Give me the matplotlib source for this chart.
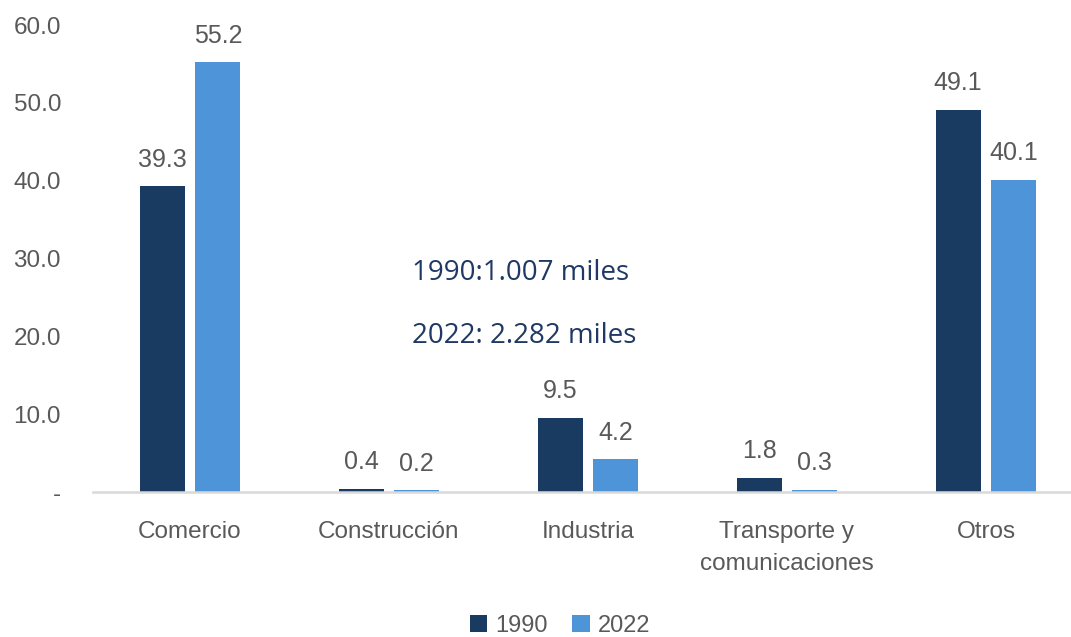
import matplotlib.pyplot as plt
import numpy as np

categorias = ['Comercio', 'Construcción', 'Industria', 'Transporte y\ncomunicaciones', 'Otros']
valores_1990 = [39.3, 0.4, 9.5, 1.8, 49.1]
valores_2022 = [55.2, 0.2, 4.2, 0.3, 40.1]
ticks_y = [0, 10, 20, 30, 40, 50, 60]
etiquetas_y = ['-', '10.0', '20.0', '30.0', '40.0', '50.0', '60.0']
nota = ['1990:1.007 miles', '2022: 2.282 miles']

c1990 = '#1a3b61'
c2022 = '#4e94d8'
gris = '#595959'

plt.rcParams['font.family'] = ['Liberation Sans', 'DejaVu Sans']

fig = plt.figure(figsize=(10.71, 6.37), dpi=100)
ax = fig.add_axes([93 / 1071, 145 / 637, 978 / 1071, 467 / 637])

x = np.arange(len(categorias))
ancho = 0.226
desp = 0.14
b1 = ax.bar(x - desp, valores_1990, ancho, color=c1990, label='1990')
b2 = ax.bar(x + desp, valores_2022, ancho, color=c2022, label='2022')

for barras, vals in ((b1, valores_1990), (b2, valores_2022)):
    for b, v in zip(barras, vals):
        ax.annotate(f'{v:.1f}', (b.get_x() + b.get_width() / 2, v),
                    xytext=(0, 10.5), textcoords='offset points',
                    ha='center', va='bottom', fontsize=18, color=gris)

ax.set_xlim(-0.487, 4.427)
ax.set_ylim(0, 60)
ax.set_xticks(x)
ax.set_xticklabels(categorias, fontsize=17.5, color=gris, linespacing=1.6)
ax.set_yticks(ticks_y)
ax.set_yticklabels(etiquetas_y, fontsize=17.5, color=gris)
ax.tick_params(axis='both', length=0)
ax.tick_params(axis='x', pad=21)
ax.tick_params(axis='y', pad=23)

for s in ('top', 'right', 'left'):
    ax.spines[s].set_visible(False)
ax.spines['bottom'].set_color('#d9d9d9')
ax.spines['bottom'].set_linewidth(1.8)

ax.text(1.116, 28.2, nota[0], fontsize=20, color='#1f3864',
        family=['Open Sans', 'DejaVu Sans'], va='center', ha='left')
ax.text(1.116, 20.1, nota[1], fontsize=20, color='#1f3864',
        family=['Open Sans', 'DejaVu Sans'], va='center', ha='left')

fig.legend(loc='center', bbox_to_anchor=(560 / 1071, 1 - 626 / 637), ncol=2,
           frameon=False, fontsize=17, labelcolor=gris, handlelength=0.75,
           handleheight=0.75, handletextpad=0.35, columnspacing=1.0)

fig.savefig('out.png', dpi=100)
